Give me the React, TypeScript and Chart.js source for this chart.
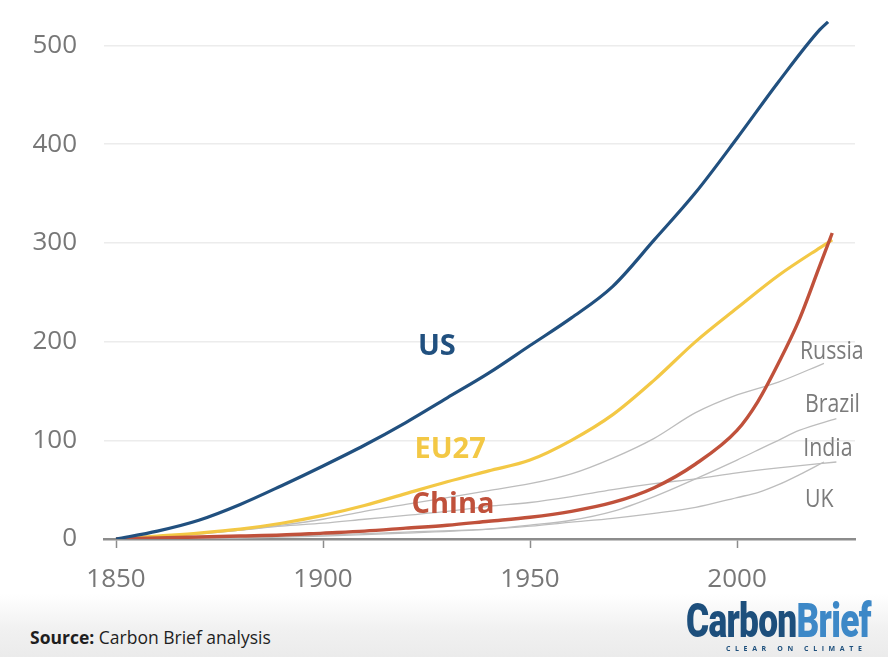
import React, { useEffect, useRef } from "react";
import { Chart, registerables } from "chart.js";

Chart.register(...registerables);

// ---- Data (cumulative CO2, GtCO2) ----
const US_YEARS = [1850, 1860, 1870, 1880, 1890, 1900, 1910, 1920, 1930, 1940, 1950, 1960, 1970, 1980, 1990, 2000, 2010, 2020, 2022];
const US_VALUES = [0, 8, 19, 35, 54, 74, 95, 118, 143, 168, 196, 224, 256, 303, 351, 406, 463, 516, 524];

const EU_YEARS = [1850, 1860, 1870, 1880, 1890, 1900, 1910, 1920, 1930, 1940, 1950, 1960, 1970, 1980, 1990, 2000, 2010, 2020, 2023];
const EU_VALUES = [0, 3, 6, 10, 16, 24, 34, 46, 58, 69, 80, 100, 126, 161, 200, 234, 267, 295, 303];

const CHINA_YEARS = [1850, 1860, 1870, 1880, 1890, 1900, 1910, 1920, 1930, 1940, 1950, 1960, 1970, 1980, 1990, 2000, 2005, 2010, 2015, 2020, 2023];
const CHINA_VALUES = [0, 1, 2, 3, 4, 6, 8, 11, 14, 18, 22, 28, 37, 52, 76, 110, 139, 178, 222, 277, 310];

const RUSSIA_YEARS = [1850, 1870, 1880, 1890, 1900, 1910, 1920, 1930, 1940, 1950, 1960, 1970, 1980, 1990, 2000, 2010, 2021];
const RUSSIA_VALUES = [0, 5, 9, 14, 20, 28, 35, 42, 49, 56, 66, 82, 102, 128, 146, 159, 178];

const BRAZIL_YEARS = [1850, 1880, 1900, 1920, 1940, 1950, 1960, 1970, 1980, 1990, 2000, 2005, 2010, 2015, 2024];
const BRAZIL_VALUES = [0, 1, 3, 6, 10, 14, 19, 28, 43, 61, 80, 90, 100, 110, 122];

const INDIA_YEARS = [1850, 1900, 1920, 1940, 1950, 1960, 1970, 1980, 1990, 2000, 2005, 2010, 2015, 2021];
const INDIA_VALUES = [0, 4, 7, 10, 13, 17, 21, 26, 32, 42, 47, 55, 65, 78];

const UK_YEARS = [1850, 1860, 1870, 1880, 1890, 1900, 1910, 1920, 1930, 1940, 1950, 1960, 1970, 1980, 1990, 2000, 2010, 2024];
const UK_VALUES = [0, 3, 6, 9, 13, 16, 20, 24, 28, 33, 37, 43, 50, 56, 61, 67, 72, 78];

const X_TICKS = [1850, 1900, 1950, 2000];

// Series labels (text, anchor year, anchor value)
const LABEL_TEXT = ["US", "EU27", "China", "Russia", "Brazil", "India", "UK"];
const LABEL_YEAR = [1927.5, 1930.7, 1931.4, 2015.2, 2016.4, 2016.0, 2016.4];
const LABEL_VALUE = [194.5, 90, 34.5, 190, 136, 92, 39.5];

const C_US = "#21507f";
const C_EU = "#f3c845";
const C_CN = "#c0513b";
const C_GRAY = "#bdbdbd";
const C_LABEL_GRAY = "#7b7b7b";

const LABEL_COLORS = [C_US, C_EU, C_CN, C_LABEL_GRAY, C_LABEL_GRAY, C_LABEL_GRAY, C_LABEL_GRAY];

function pts(years: number[], values: number[]) {
  return years.map((y, i) => ({ x: y, y: values[i] }));
}

const labelPlugin = {
  id: "seriesLabels",
  afterDatasetsDraw(chart: any) {
    const { ctx, scales } = chart;
    const xs = scales.x;
    const ys = scales.y;
    ctx.save();
    LABEL_TEXT.forEach((t, i) => {
      const px = xs.getPixelForValue(LABEL_YEAR[i]);
      const py = ys.getPixelForValue(LABEL_VALUE[i]);
      ctx.save();
      ctx.fillStyle = LABEL_COLORS[i];
      ctx.textBaseline = "middle";
      if (i < 3) {
        ctx.font = "bold 29px 'Open Sans'";
        ctx.textAlign = "center";
        ctx.fillText(t, px, py);
      } else {
        ctx.font = "26px 'Open Sans'";
        ctx.textAlign = "left";
        ctx.translate(px, py);
        ctx.scale(0.82, 1);
        ctx.fillText(t, 0, 0);
      }
      ctx.restore();
    });
    ctx.restore();
  },
};

export default function App() {
  const ref = useRef<HTMLCanvasElement>(null);

  useEffect(() => {
    if (!ref.current) return;
    const grayDs = (data: any) => ({
      data,
      borderColor: C_GRAY,
      borderWidth: 1.3,
      pointRadius: 0,
      cubicInterpolationMode: "monotone" as const,
    });
    const chart = new Chart(ref.current, {
      type: "line",
      data: {
        datasets: [
          { data: pts(US_YEARS, US_VALUES), borderColor: C_US, borderWidth: 3.2, pointRadius: 0, cubicInterpolationMode: "monotone" },
          { data: pts(CHINA_YEARS, CHINA_VALUES), borderColor: C_CN, borderWidth: 3.4, pointRadius: 0, cubicInterpolationMode: "monotone" },
          { data: pts(EU_YEARS, EU_VALUES), borderColor: C_EU, borderWidth: 3.2, pointRadius: 0, cubicInterpolationMode: "monotone" },
          grayDs(pts(RUSSIA_YEARS, RUSSIA_VALUES)),
          grayDs(pts(BRAZIL_YEARS, BRAZIL_VALUES)),
          grayDs(pts(INDIA_YEARS, INDIA_VALUES)),
          grayDs(pts(UK_YEARS, UK_VALUES)),
        ] as any,
      },
      options: {
        animation: false,
        responsive: false,
        maintainAspectRatio: false,
        layout: { padding: { left: 8, right: 33, top: 6, bottom: 6 } },
        plugins: { legend: { display: false }, tooltip: { enabled: false } },
        scales: {
          x: {
            type: "linear",
            min: 1847.1,
            max: 2028.5,
            afterBuildTicks: (scale: any) => {
              scale.ticks = X_TICKS.map((v) => ({ value: v }));
            },
            afterFit: (scale: any) => {
              scale.height = 55;
            },
            ticks: {
              font: { family: "'Open Sans'", size: 26 },
              color: "#777777",
              padding: 16,
              maxRotation: 0,
              callback: (v: any) => String(v),
            },
            grid: { drawOnChartArea: false, drawTicks: true, tickLength: 9, tickColor: "#8c8c8c", tickWidth: 1.5 },
            border: { display: true, color: "#8c8c8c", width: 2.5 },
          },
          y: {
            type: "linear",
            min: 0,
            max: 540,
            afterBuildTicks: (scale: any) => {
              scale.ticks = scale.ticks.filter((t: any) => t.value % 100 === 0);
            },
            afterFit: (scale: any) => {
              scale.width = 96;
              scale.paddingTop = 0;
              scale.paddingBottom = 0;
            },
            ticks: {
              stepSize: 100,
              font: { family: "'Open Sans'", size: 26 },
              color: "#777777",
              padding: 27,
            },
            grid: { color: "#ececec", lineWidth: 1.5, drawTicks: false },
            border: { display: false },
          },
        },
      },
      plugins: [labelPlugin],
    });
    return () => chart.destroy();
  }, []);

  return (
    <div style={{ position: "absolute", left: 0, top: 0, width: 888, height: 657, background: "#ffffff", overflow: "hidden" }}>
      <div
        style={{
          position: "absolute",
          left: 0,
          top: 594,
          width: 888,
          height: 63,
          background: "linear-gradient(to bottom, #ffffff 0%, #f1f1f1 55%, #ebebeb 100%)",
        }}
      />
      <canvas ref={ref} width={888} height={600} style={{ position: "absolute", left: 0, top: 0, width: 888, height: 600 }} />
      <div
        style={{
          position: "absolute",
          left: 30,
          top: 626,
          fontFamily: "'Open Sans', sans-serif",
          fontSize: 17.5,
          color: "#1e1e1e",
          whiteSpace: "nowrap",
          lineHeight: "22px",
        }}
      >
        <b>Source:</b> Carbon Brief analysis
      </div>
      <div
        style={{
          position: "absolute",
          left: 686,
          top: 596,
          fontFamily: "Roboto, 'Liberation Sans', sans-serif",
          fontWeight: 900,
          fontSize: 49,
          lineHeight: "49px",
          whiteSpace: "nowrap",
          transform: "scaleX(0.72)",
          transformOrigin: "left top",
          letterSpacing: -1,
        }}
      >
        <span style={{ color: "#1d4f7c" }}>Carbon</span>
        <span style={{ color: "#3d88c7" }}>Brief</span>
      </div>
      <div
        style={{
          position: "absolute",
          left: 726,
          top: 644,
          fontFamily: "'Open Sans', sans-serif",
          fontSize: 7,
          fontWeight: 700,
          letterSpacing: 4.6,
          color: "#1d4f7c",
          whiteSpace: "nowrap",
          lineHeight: "10px",
        }}
      >
        CLEAR ON CLIMATE
      </div>
    </div>
  );
}
